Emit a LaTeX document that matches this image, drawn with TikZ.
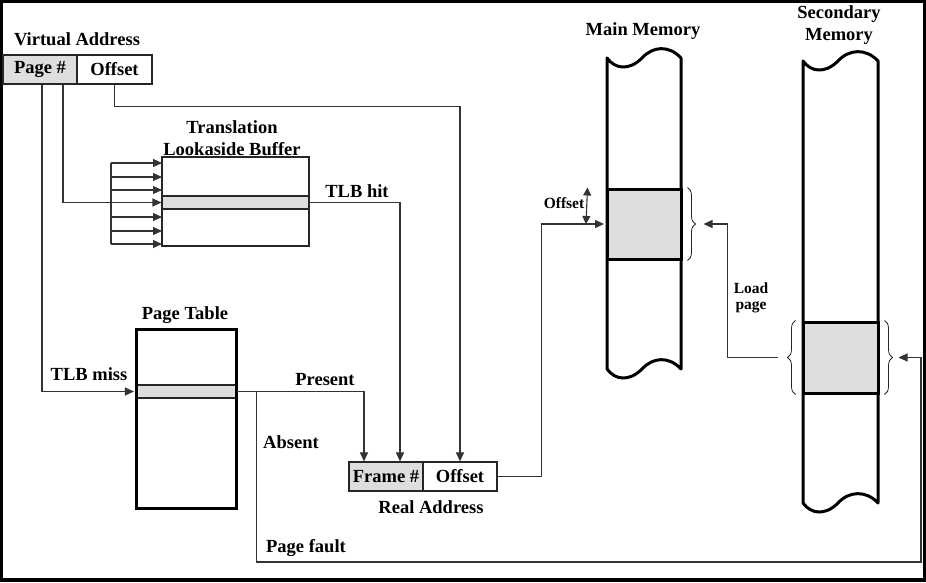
\documentclass[tikz,border=0pt]{standalone}
\usepackage{fontspec}
\setmainfont{Liberation Serif}
\usetikzlibrary{arrows.meta,decorations.pathreplacing,calc}

% memory column with wavy cut-off ends: {left x}{right x}{top y}{bottom y}
\newcommand{\memcolumn}[4]{%
  \path[memcol] (#1,#3)
    .. controls ({#1+8},{#3+11}) and ({#1+22},{#3+13}) .. ({#1+35},#3)
    .. controls ({#1+46},{#3-12}) and ({#2-12},{#3-13}) .. (#2,#3)
    -- (#2,#4)
    .. controls ({#2-12},{#4-13}) and ({#1+46},{#4-12}) .. ({#1+35},#4)
    .. controls ({#1+22},{#4+13}) and ({#1+8},{#4+11}) .. (#1,#4)
    -- cycle;}

\begin{document}
\begin{tikzpicture}[x=1pt,y=-1pt,
  txt/.style={font=\bfseries\fontsize{18.5}{20}\selectfont, inner sep=0pt},
  smalltxt/.style={font=\bfseries\fontsize{15.5}{17}\selectfont, inner sep=0pt},
  grayfill/.style={fill=black!13},
  cell/.style={draw=black!85, line width=1.2pt, minimum height=29pt, inner sep=0pt, txt},
  thinbox/.style={draw=black!85, line width=1.1pt, inner sep=0pt},
  thickbox/.style={draw=black, line width=3pt, inner sep=0pt},
  link/.style={draw=black!80, line width=1.1pt},
  arrowed/.style={-{Triangle[length=9pt,width=8pt]}},
  twoway/.style={{Triangle[length=8pt,width=8pt]}-{Triangle[length=8pt,width=8pt]}},
  memcol/.style={draw=black, line width=3pt, fill=white, line join=round},
  bracket/.style={draw=black!85, line width=0.8pt, decorate, decoration={brace, amplitude=8pt}},
]
\useasboundingbox (0,0) rectangle (926,582);

% frame
\fill[black] (0,0) rectangle (926,582);
\fill[white] (3,3) rectangle (923,578);

% virtual address
\node[txt, anchor=base] (lvirt) at (77,45) {Virtual Address};
\node[cell, grayfill, minimum width=74pt] (vpage) at (40,69.5) {Page \#};
\node[cell, minimum width=75pt] (voff) at (114.5,69.5) {Offset};

% translation lookaside buffer
\node[txt, anchor=base] (ltrans) at (232,133) {Translation};
\node[txt, anchor=base] (llook) at (232,155) {Lookaside Buffer};
\node[thinbox, minimum width=147pt, minimum height=89pt] (tlb) at (235.5,201.5) {};
\node[thinbox, grayfill, minimum width=147pt, minimum height=13pt] (tlbrow) at (235.5,202.5) {};

% page table
\node[txt, anchor=base] (lpt) at (185,319) {Page Table};
\node[thinbox, grayfill, minimum width=100pt, minimum height=13pt] (ptrow) at (186,391.5) {};
\node[thickbox, minimum width=100pt, minimum height=179pt] (pt) at (186,418.5) {};

% real address
\node[cell, grayfill, minimum width=74pt] (rframe) at (386,476.5) {Frame \#};
\node[cell, minimum width=74pt] (roff) at (460,476.5) {Offset};
\node[txt, anchor=base] (lreal) at (431,513) {Real Address};

% memories
\node[txt, anchor=base] (lmain) at (643,35) {Main Memory};
\node[txt, anchor=base] (lsec1) at (839,18) {Secondary};
\node[txt, anchor=base] (lsec2) at (839,40) {Memory};
\memcolumn{607}{681}{58}{369}
\memcolumn{803}{878}{61}{503}
\node[thickbox, grayfill, minimum width=74pt, minimum height=70pt] (mmblk) at (644,224) {};
\node[thickbox, grayfill, minimum width=75pt, minimum height=71pt] (smblk) at (840.5,357.5) {};

% braces round the page frames
\draw[bracket] ([xshift=5pt]mmblk.north east) -- ([xshift=5pt]mmblk.south east);
\draw[bracket] ([xshift=-6pt]smblk.south west) -- ([xshift=-6pt]smblk.north west);
\draw[bracket] ([xshift=5pt]smblk.north east) -- ([xshift=5pt]smblk.south east);

% connector end points
\coordinate (mmIn) at ([xshift=-1.5pt]mmblk.west);
\coordinate (mmOut) at ([xshift=21pt]mmblk.east);
\coordinate (smIn) at ([xshift=-24pt]smblk.west);
\coordinate (smOut) at ([xshift=19pt]smblk.east);
\coordinate (split) at ([xshift=20pt]ptrow.east);
\coordinate (pfault) at (921,562);
\coordinate (busT) at (111,163);
\coordinate (busB) at (111,244);
\coordinate (offT) at ([xshift=-18pt]mmblk.north west);
\coordinate (offB) at ([xshift=-18pt]mmIn);

% connectors
\draw[link, arrowed] (voff.south) -- ++(0,22) -| (roff.north);
\draw[link, arrowed] ([xshift=23pt]vpage.south) |- (tlbrow.west);
\draw[link] (busT) -- (busB);
\foreach \y in {163,177,190,217,231,244}
  \draw[link, arrowed] (111,\y) -- ++(51,0);
\draw[link, arrowed] ([xshift=2pt]vpage.south) |- ([xshift=-1.5pt]ptrow.west);
\draw[link, arrowed] (tlbrow.east) -| ([xshift=14pt]rframe.north);
\draw[link, arrowed] (ptrow.east) -| ([xshift=-22pt]rframe.north);
\draw[link, arrowed] (split) |- (pfault) |- (smOut);
\draw[link, arrowed] (roff.east) -- ++(44,0) |- (mmIn);
\draw[link, arrowed] (smIn) -- ++(-50,0) |- (mmOut);
\draw[link, twoway] (offT) -- (offB);

% connector labels
\node[txt, anchor=base] (lhit) at (357,197) {TLB hit};
\node[txt, anchor=base] (lmiss) at (89,380) {TLB miss};
\node[txt, anchor=base] (lpresent) at (325,385) {Present};
\node[txt, anchor=base] (labsent) at (291,448) {Absent};
\node[txt, anchor=base] (lfault) at (306,552) {Page fault};
\node[smalltxt, anchor=base] (loffs) at (564,208) {Offset};
\node[smalltxt, anchor=base] (lload) at (751,293) {Load};
\node[smalltxt, anchor=base] (lpage) at (751,309) {page};
\end{tikzpicture}
\end{document}
